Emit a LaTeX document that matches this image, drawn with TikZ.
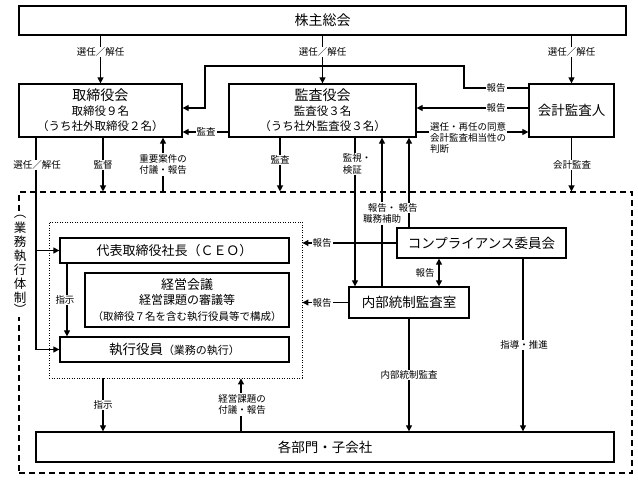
\documentclass[tikz,border=0pt]{standalone}
\usepackage{fontspec}
\setmainfont{Noto Sans CJK JP}
\usetikzlibrary{arrows.meta,calc}
\newcommand\fsz[2]{\fontsize{#1}{#2}\selectfont}
\begin{document}
\begin{tikzpicture}[x=1pt,y=-1pt,
  box/.style={draw, line width=1.3pt, fill=white, inner sep=0pt, align=center},
  conn/.style={line width=1.2pt},
  arr/.style={conn, -{Triangle[length=6pt,width=6pt]}},
  darr/.style={conn, {Triangle[length=6pt,width=6pt]}-{Triangle[length=6pt,width=6pt]}},
  lbl/.style={fill=white, inner sep=1pt, font=\fsz{9.5}{11.5}, align=center},
  vch/.style={inner sep=0pt, font=\fsz{12.5}{13}},
]
\useasboundingbox (0,0) rectangle (638,481);

% frames
\node[draw, dash pattern=on 6pt off 4pt, line width=1.1pt, minimum width=613pt, minimum height=281pt, inner sep=0pt] (exec) at (325.5,332.5) {};
\node[draw, dash pattern=on 1pt off 1.5pt, line width=0.9pt, minimum width=253pt, minimum height=156pt, inner sep=0pt] (grp) at (175.5,300) {};

% boxes
\node[box, minimum width=607pt, minimum height=29pt, font=\fsz{14}{16}] (soukai) at (322.5,20.5) {株主総会};
\node[box, minimum width=163pt, minimum height=53pt, font=\fsz{11.5}{15}] (board) at (100.5,110.5) {{\fsz{14}{15}取締役会}\\取締役９名\\（うち社外取締役２名）};
\node[box, minimum width=187pt, minimum height=53pt, font=\fsz{11.5}{15}] (kansa) at (322.5,110.5) {{\fsz{14}{15}監査役会}\\監査役３名\\（うち社外監査役３名）};
\node[box, minimum width=85pt, minimum height=53pt, font=\fsz{13.5}{15}] (auditor) at (571.5,110.5) {会計監査人};
\node[box, minimum width=229pt, minimum height=25pt, font=\fsz{13}{15}] (ceo) at (174.5,250.5) {代表取締役社長（ＣＥＯ）};
\node[box, minimum width=204pt, minimum height=54pt, font=\fsz{10.5}{15.5}] (keiei) at (187,300) {{\fsz{13}{15}経営会議}\\{\fsz{12}{15}経営課題の審議等}\\（取締役７名を含む執行役員等で構成）};
\node[box, minimum width=229pt, minimum height=25pt] (shikkou) at (174.5,349.5) {{\fsz{13.5}{15}執行役員}{\fsz{11}{15}（業務の執行）}};
\node[box, minimum width=169pt, minimum height=30pt, font=\fsz{13.5}{15}] (comp) at (481.5,243) {コンプライアンス委員会};
\node[box, minimum width=120pt, minimum height=31pt, font=\fsz{13.5}{15}] (naibu) at (409,302.5) {内部統制監査室};
\node[box, minimum width=578pt, minimum height=30pt, font=\fsz{13.5}{15}] (bumon) at (325,447) {各部門・子会社};

% helper coordinates
\coordinate (r1) at (464,88);
\coordinate (r2) at (205,66);
\coordinate (r3) at (205,108);
\coordinate (s1) at (0,132);
\coordinate (x36) at (36,0);
\coordinate (x67) at (67,0);
\coordinate (x103) at (103,0);
\coordinate (x163) at (163,0);
\coordinate (x241) at (241,0);
\coordinate (x280) at (280,0);
\coordinate (x355) at (355,0);
\coordinate (x382) at (382,0);
\coordinate (x409) at (409,0);
\coordinate (x439) at (439,0);
\coordinate (x523) at (523,0);

% connectors
\draw[arr] (board.north |- soukai.south) -- (board.north);
\draw[arr] (kansa.north |- soukai.south) -- (kansa.north);
\draw[arr] (auditor.north |- soukai.south) -- (auditor.north);
\draw[arr] (auditor.west |- r1) -- (r1) |- (r2) -- (r3) -- (board.east |- r3);
\draw[arr] (auditor.west |- r3) -- (kansa.east |- r3);
\draw[arr] (kansa.east |- s1) -- (auditor.west |- s1);
\draw[arr] (kansa.west |- s1) -- (board.east |- s1);
\draw[arr] (board.south -| x36) |- (shikkou.west);
\draw[arr] (x36 |- ceo.west) -- (ceo.west);
\draw[arr] (board.south -| x103) -- (exec.north -| x103);
\draw[arr] (exec.north -| x163) -- (board.south -| x163);
\draw[arr] (kansa.south -| x280) -- (exec.north -| x280);
\draw[arr] (kansa.south -| x355) -- (naibu.north -| x355);
\draw[arr] (naibu.north -| x382) -- (kansa.south -| x382);
\draw[arr] (comp.north -| x409) -- (kansa.south -| x409);
\draw[arr] (auditor.south) -- (exec.north -| auditor.south);
\draw[arr] (comp.west) -- (grp.east |- comp.west);
\draw[arr] (naibu.west) -- (grp.east |- naibu.west);
\draw[darr] (comp.south -| x439) -- (naibu.north -| x439);
\draw[arr] (comp.south -| x523) -- (bumon.north -| x523);
\draw[arr] (naibu.south) -- (bumon.north -| naibu.south);
\draw[arr] (ceo.south -| x67) -- (shikkou.north -| x67);
\draw[arr] (grp.south -| x103) -- (bumon.north -| x103);
\draw[arr] (bumon.north -| x241) -- (grp.south -| x241);

% labels
\node[lbl] (l1) at (100.5,52) {選任／解任};
\node[lbl] (l2) at (322.5,52) {選任／解任};
\node[lbl] (l3) at (571.5,52) {選任／解任};
\node[lbl] (l4) at (496,88) {報告};
\node[lbl] (l5) at (496,108) {報告};
\node[lbl, align=left, anchor=north west, font=\fsz{9.5}{11}] (l6) at (429,121) {選任・再任の同意\\会計監査相当性の\\判断};
\node[lbl] (l7) at (206,132) {監査};
\node[lbl] (l8) at (37,165) {選任／解任};
\node[lbl] (l9) at (103,165) {監督};
\node[lbl] (l10) at (163,164.5) {重要案件の\\付議・報告};
\node[lbl] (l11) at (280,160) {監査};
\node[lbl, align=left] (l12) at (357,164) {監視・\\検証};
\node[lbl] (l13) at (382,213.5) {報告・\\職務補助};
\node[lbl] (l14) at (408,208) {報告};
\node[lbl] (l15) at (572,165) {会計監査};
\node[lbl] (l16) at (322,243) {報告};
\node[lbl] (l17) at (322,303) {報告};
\node[lbl] (l18) at (425,273) {報告};
\node[lbl] (l19) at (524,345) {指導・推進};
\node[lbl] (l20) at (409,375) {内部統制監査};
\node[lbl] (l21) at (65,300) {指示};
\node[lbl] (l22) at (103,405) {指示};
\node[lbl] (l23) at (242,404.5) {経営課題の\\付議・報告};

% vertical title
\node[fill=white, inner sep=0pt, minimum width=14pt, minimum height=104pt] (vtbg) at (20,265) {};
\node[vch] (v0) at (20,217) {︵};
\node[vch] (v1) at (20,228) {業};
\node[vch] (v2) at (20,242) {務};
\node[vch] (v3) at (20,256) {執};
\node[vch] (v4) at (20,270) {行};
\node[vch] (v5) at (20,284) {体};
\node[vch] (v6) at (20,298) {制};
\node[vch] (v7) at (20,309) {︶};
\end{tikzpicture}
\end{document}
